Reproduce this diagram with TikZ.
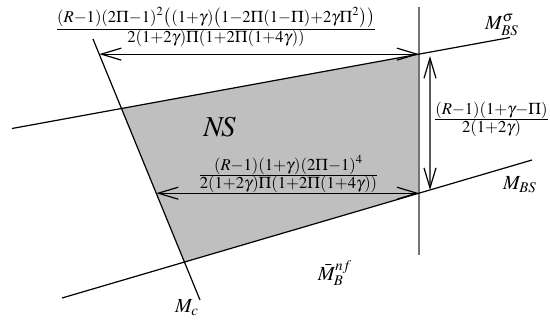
\documentclass[tikz,border=0pt]{standalone}
\usepackage{mathptmx}
\usetikzlibrary{arrows.meta}
\medmuskip=0mu
\newcommand{\tfr}[2]{\frac{\displaystyle #1}{\displaystyle #2}}
\begin{document}
\begin{tikzpicture}[x=0.5pt,y=-0.5pt,
  ln/.style={line width=0.6pt},
  vln/.style={line width=0.8pt,draw=black!55},
  dimarrow/.style={line width=0.6pt,{Straight Barb[length=10pt,width=6pt]}-{Straight Barb[length=10pt,width=6pt]}},
  lbl/.style={inner sep=0pt},
  frac/.style={inner sep=0pt,anchor=base,font=\fontsize{8.3}{10}\selectfont},
  shade/.style={fill=black!25}]
\useasboundingbox (0,0) rectangle (550,321);
\coordinate (u1) at (12,128.5);
\coordinate (u2) at (510,37.5);
\coordinate (l1) at (62,298);
\coordinate (l2) at (532,160);
\coordinate (c1) at (93,39);
\coordinate (c2) at (200,300);
\coordinate (v1) at (419,7);
\coordinate (v2) at (419,255);
\coordinate (p1) at (intersection of u1--u2 and c1--c2);
\coordinate (p2) at (intersection of u1--u2 and v1--v2);
\coordinate (p3) at (intersection of l1--l2 and v1--v2);
\coordinate (p4) at (intersection of l1--l2 and c1--c2);
\fill[shade] (p1) -- (p2) -- (p3) -- (p4) -- cycle;
\draw[vln] (v1) -- (v2);
\draw[ln] (u1) -- (u2);
\draw[ln] (l1) -- (l2);
\draw[ln] (c1) -- (c2);
% top dimension
\coordinate (p2w) at ([xshift=-100pt]p2);
\coordinate (t1) at (intersection of c1--c2 and p2--p2w);
\draw[dimarrow] (t1) -- (p2);
% lower dimension
\coordinate (p3w) at ([xshift=-100pt]p3);
\coordinate (b1) at (intersection of c1--c2 and p3--p3w);
\draw[dimarrow] (b1) -- (p3);
% vertical dimension
\coordinate (a1) at ([xshift=5.5pt,yshift=-1pt]p2);
\coordinate (a1b) at ([yshift=-100pt]a1);
\coordinate (a2) at (intersection of l1--l2 and a1--a1b);
\draw[dimarrow] (a1) -- (a2);
% labels
\node[frac] (ftop) at (216,33) {$\tfr{(R-1)(2\Pi-1)^2\big((1+\gamma)\big(1-2\Pi(1-\Pi)+2\gamma\Pi^2\big)\big)}{2(1+2\gamma)\Pi(1+2\Pi(1+4\gamma))}$};
\node[frac] (flow) at (288.5,179.5) {$\tfr{(R-1)(1+\gamma)(2\Pi-1)^4}{2(1+2\gamma)\Pi(1+2\Pi(1+4\gamma))}$};
\node[frac] (fright) at (491.5,123.5) {$\tfr{(R-1)(1+\gamma-\Pi)}{2(1+2\gamma)}$};
\node[lbl] (mbss) at (502,25) {$M_{BS}^{\sigma}$};
\node[lbl] (mbs) at (520,185) {$M_{BS}$};
\node[lbl] (ns) at (219.5,127) {\Large$N\!S$};
\node[lbl] (mbnf) at (335,273) {$\bar{M}_B^{nf}$};
\node[lbl] (mc) at (187,308) {$M_c$};
\end{tikzpicture}
\end{document}
